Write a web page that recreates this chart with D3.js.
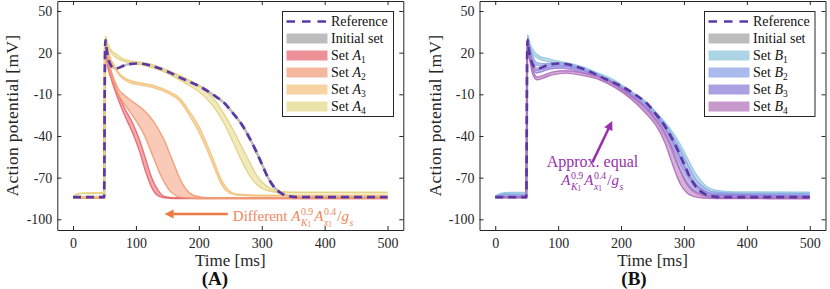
<!DOCTYPE html>
<html lang="en">
<head>
<meta charset="UTF-8" />
<title>Action potential sets</title>
<script src="https://cdn.jsdelivr.net/npm/d3@7"></script>
<style>
  body { margin: 0; background: #fff; }
  svg { display: block; font-family: "Liberation Serif", "DejaVu Serif", serif; }
  text { white-space: pre; }
</style>
</head>
<body>
<svg id="canvas"></svg>
<script>
// ---- data ----
const xTicks = [0, 100, 200, 300, 400, 500];
const yTicks = [-100, -70, -40, -10, 20, 50];

// reference trace [t ms, V mV]
const reference = [
  [0, -84], [49.5, -84], [50.5, 5], [51.5, 29], [53, 24], [56, 16], [60, 11], [65, 9],
  [70, 8.8], [80, 10.5], [90, 11.8], [100, 12.2], [110, 12], [125, 10.5], [150, 6.5],
  [175, 1], [200, -4], [225, -11], [240, -16], [255, -24], [270, -33], [280, -41],
  [290, -50], [300, -60], [310, -70], [320, -77], [330, -81], [345, -83.5], [360, -84], [500, -84]
];

// sets as [t, lower V, upper V]
const setA1 = [
  [0, -84.8, -84.5], [49.5, -84.8, -84.5], [50.5, 0, 5], [51.5, 20, 24], [55, 10, 16], [60, 2, 7],
  [65, -5, -1], [72, -14, -10], [82, -25, -20], [95, -38, -31], [105, -50, -42], [115, -65, -56],
  [125, -77, -70], [135, -83, -79], [145, -84.5, -83.5], [160, -85, -84.5], [500, -85, -84.8]
];
const setA2 = [
  [0, -84.8, -84.5], [49.5, -84.8, -84.5], [50.5, 2, 6], [51.5, 22, 25], [55, 14, 17], [60, 5, 8],
  [65, -2, 1], [72, -10, -6], [80, -16, -10], [88, -21, -13], [100, -29, -17], [114, -40, -22],
  [122, -49, -26], [130, -58, -31], [138, -67, -37], [146, -74, -44], [154, -79.5, -53],
  [162, -82.5, -62], [170, -84, -71], [180, -84.5, -78.5], [190, -84.8, -82.5], [205, -85, -84],
  [220, -85, -84.5], [500, -85, -84.8]
];
const setA3 = [
  [0, -84.3, -83.8], [49.5, -84.3, -83.8], [50.5, 6, 9], [51.5, 25, 27], [55, 20, 22], [60, 14, 15.5],
  [66, 9, 10.5], [72, 4.5, 6], [80, 1, 2.5], [90, -1.5, 0], [110, -3.5, -2], [130, -5.5, -4],
  [150, -9, -7.5], [170, -15, -13], [186, -26, -23], [200, -37, -33], [212, -49, -45],
  [223, -61, -57], [234, -73, -70], [245, -80, -78], [260, -82.5, -82], [300, -83.2, -82.7],
  [500, -83.2, -82.7]
];
const setA4 = [
  [0, -84, -84], [5, -82.5, -82], [15, -81.5, -81], [49.5, -81.3, -80.8], [50.5, 10, 14],
  [51.5, 29, 32], [55, 24, 27], [60, 20, 22], [67, 17, 19.5], [80, 14, 15.5], [100, 12, 13.5],
  [120, 10, 12], [140, 7, 9], [165, 1.5, 4.5], [190, -5, -1], [210, -12, -7], [225, -20, -14],
  [240, -31, -24], [255, -45, -36], [265, -55, -45], [280, -68, -58], [290, -74, -67],
  [300, -77.5, -73], [315, -80, -78], [330, -80.8, -80], [350, -81, -80.5], [500, -81, -80.5]
];
const setB1 = [
  [0, -84, -83.5], [5, -82.5, -82], [15, -81.3, -80.8], [49.5, -81, -80.5], [50.5, 12, 16],
  [51.5, 30, 33], [55, 24, 27], [60, 19, 22], [70, 15.5, 17.5], [85, 13.5, 15.5], [100, 12, 13.8],
  [120, 10, 12], [140, 7.5, 9.5], [165, 2.5, 5], [190, -3, 0], [215, -11, -8], [240, -20, -16],
  [260, -30, -25], [275, -40, -33], [290, -53, -43], [300, -62, -51], [310, -70, -60],
  [320, -76, -68], [335, -79.5, -76], [350, -80.5, -79], [380, -81, -80.3], [500, -81, -80.5]
];
const setB2 = [
  [0, -84, -83.5], [15, -82.5, -82], [49.5, -82.3, -81.8], [50.5, 10, 14], [51.5, 29, 31],
  [55, 21, 24], [60, 14, 17], [65, 11, 13], [75, 10.5, 12], [90, 11, 12.5], [105, 11, 12.3],
  [130, 8.5, 10], [160, 3, 5], [190, -3.5, -1.5], [215, -11.5, -9], [240, -21, -17],
  [260, -31, -26], [275, -42, -35], [290, -56, -46], [300, -65, -55], [310, -72, -64],
  [320, -77, -72], [335, -80.5, -78], [350, -81.5, -80.5], [400, -82, -81.5], [500, -82, -81.5]
];
const setB3 = [
  [0, -84, -83.5], [49.5, -83.3, -83], [50.5, 8, 12], [51.5, 28, 30], [55, 18, 21], [60, 9, 12],
  [65, 5.5, 7.5], [72, 6, 8], [85, 8, 9.5], [105, 9, 10.5], [130, 7, 8.5], [160, 2, 4],
  [190, -4, -2], [215, -12, -10], [240, -22, -19], [260, -33, -28], [275, -45, -38],
  [285, -56, -46], [295, -66, -56], [305, -74, -66], [315, -79, -73], [330, -82, -79],
  [350, -83, -82], [500, -83.3, -83]
];
const setB4 = [
  [0, -84.5, -84], [49.5, -84.5, -84], [50.5, 6, 10], [51.5, 27, 29], [55, 15, 18], [60, 4, 7],
  [67, 0.5, 2.5], [75, 1.5, 3.5], [90, 4, 6], [113, 5.3, 7], [140, 3.5, 5.3], [166, 0.5, 2.5],
  [190, -5, -3], [215, -13, -11], [240, -24, -20], [255, -32, -28], [270, -45, -38],
  [280, -58, -48], [288, -68, -58], [296, -76, -67], [305, -81, -75], [315, -83.5, -80],
  [330, -84.7, -83], [350, -85, -84.3], [500, -85.2, -84.5]
];

const fillsA = ["#ee9097", "#f5b89f", "#f7d3a3", "#ebe3aa"];
const linesA = ["#e9656c", "#f09b72", "#f2c27c", "#e3d27f"];
const fillsB = ["#acd4e4", "#aabaec", "#aba0e1", "#c899cd"];
const linesB = ["#95c8df", "#8fa6e6", "#9282da", "#b06dbd"];
const setNumbers = ["1", "2", "3", "4"];

const refColor = "#5c38a6";
const initColor = "#bdbdbd";

// ---- layout ----
const width = 830;
const height = 289;
const plotTop = 1;
const plotBottom = 230;
const xDomain = [-25, 525];
const yDomain = [-107.7, 57.2];

const svg = d3.select("svg").attr("width", width).attr("height", height);

function mathText(g, x, y, tokens, size, color, anchor) {
  let grp = g.append("g").attr("fill", color);
  let cx = 0;
  let put = (s, px, py, fs, italic) => {
    let t = grp.append("text").attr("x", px).attr("y", py).attr("font-size", fs)
      .style("font-style", italic ? "italic" : "normal").text(s);
    return t.node().getComputedTextLength();
  };
  tokens.forEach((tok) => {
    if (tok.s !== undefined) {
      cx += put(tok.s, cx, 0, size, tok.i);
    } else {
      let w1 = tok.sup ? put(tok.sup, cx + 0.5, -size * 0.45, size * 0.66, false) : 0;
      let sx = cx + 0.5;
      tok.sub.forEach((p, k) => {
        sx += put(p.s, sx, size * 0.3 + (k > 0 ? size * 0.1 : 0), size * (k > 0 ? 0.48 : 0.66), p.i);
      });
      cx += Math.max(w1, sx - cx) + 1.5;
    }
  });
  let dx = anchor === "middle" ? -cx / 2 : 0;
  grp.attr("transform", "translate(" + (x + dx) + "," + y + ")");
}

const ratioTokens = [
  { s: "A", i: true }, { sup: "0.9", sub: [{ s: "K", i: true }, { s: "1" }] },
  { s: "A", i: true }, { sup: "0.4", sub: [{ s: "x", i: true }, { s: "1" }] },
  { s: "/" }, { s: "g", i: true }, { sup: "", sub: [{ s: "s", i: true }] }
];

let drawPanel = (p) => {
  let xScale = d3.scaleLinear().domain(xDomain).range([p.left, p.right]);
  let yScale = d3.scaleLinear().domain(yDomain).range([plotBottom, plotTop]);
  let g = svg.append("g");

  let line = d3.line().x((d) => xScale(d[0])).y((d) => yScale(d[1])).curve(d3.curveMonotoneX);
  let area = d3.area().x((d) => xScale(d[0])).y0((d) => yScale(d[1])).y1((d) => yScale(d[2]))
    .curve(d3.curveMonotoneX);

  // initial set sits under the reference
  g.append("path").attr("d", line(reference)).attr("fill", "none")
    .attr("stroke", initColor).attr("stroke-width", 2.6);

  p.sets.forEach((s, i) => {
    g.append("path").attr("d", area(s)).attr("fill", p.fills[i]).attr("fill-opacity", 0.75);
    [1, 2].forEach((k) => {
      g.append("path").attr("d", line(s.map((d) => [d[0], d[k]]))).attr("fill", "none")
        .attr("stroke", p.lines[i]).attr("stroke-width", 1.4).attr("stroke-opacity", 0.9);
    });
  });

  g.append("path").attr("d", line(reference)).attr("fill", "none")
    .attr("stroke", refColor).attr("stroke-width", 2.7).attr("stroke-dasharray", "8,5");

  // axes, box style with inward ticks
  let fmt = (d) => String(d);
  let ax = [
    [d3.axisBottom(xScale).tickValues(xTicks).tickFormat(fmt).tickPadding(8), "translate(0," + plotBottom + ")"],
    [d3.axisTop(xScale).tickValues(xTicks).tickFormat(""), "translate(0," + plotTop + ")"],
    [d3.axisLeft(yScale).tickValues(yTicks).tickFormat(fmt).tickPadding(5), "translate(" + p.left + ",0)"],
    [d3.axisRight(yScale).tickValues(yTicks).tickFormat(""), "translate(" + p.right + ",0)"]
  ];
  ax.forEach((a) => {
    let axG = g.append("g").attr("transform", a[1])
      .call(a[0].tickSizeInner(-4).tickSizeOuter(0));
    axG.attr("font-family", null).attr("font-size", 14);
    axG.selectAll("path, line").attr("stroke", "#262626");
    axG.selectAll("text").attr("fill", "#262626");
  });

  let cx = (p.left + p.right) / 2;
  g.append("text").attr("x", cx).attr("y", 266).attr("text-anchor", "middle")
    .attr("font-size", 17).attr("fill", "#262626").text("Time [ms]");
  g.append("text").attr("transform", "translate(" + p.yLabelX + "," + (plotTop + plotBottom) / 2 + ") rotate(-90)")
    .attr("text-anchor", "middle").attr("font-size", 17.5).attr("letter-spacing", 0.3)
    .attr("fill", "#262626").text("Action potential [mV]");
  g.append("text").attr("x", p.tagX).attr("y", 285).attr("text-anchor", "middle")
    .attr("font-size", 19).attr("font-weight", "bold").attr("fill", "#111").text(p.tag);

  // legend
  let lg = g.append("g");
  lg.append("rect").attr("x", p.legX).attr("y", 11.5).attr("width", p.legW).attr("height", 105)
    .attr("fill", "#fff").attr("stroke", "#262626").attr("stroke-width", 1);
  let sx0 = p.legX + 4;
  let sx1 = p.legX + 45;
  let rowY = (k) => 21.5 + k * 17;
  lg.append("line").attr("x1", sx0).attr("x2", sx1).attr("y1", rowY(0)).attr("y2", rowY(0))
    .attr("stroke", refColor).attr("stroke-width", 2.7).attr("stroke-dasharray", "8.5,7");
  lg.append("rect").attr("x", sx0).attr("y", rowY(1) - 5).attr("width", sx1 - sx0).attr("height", 10)
    .attr("fill", initColor);
  p.fills.forEach((c, i) => {
    lg.append("rect").attr("x", sx0).attr("y", rowY(i + 2) - 5).attr("width", sx1 - sx0)
      .attr("height", 10).attr("fill", c);
  });
  let labels = ["Reference", "Initial set"];
  labels.forEach((l, k) => {
    lg.append("text").attr("x", sx1 + 3.5).attr("y", rowY(k)).attr("dy", "0.35em")
      .attr("font-size", 14).attr("fill", "#111").text(l);
  });
  setNumbers.forEach((n, i) => {
    let t = lg.append("text").attr("x", sx1 + 3.5).attr("y", rowY(i + 2)).attr("dy", "0.35em")
      .attr("font-size", 14).attr("fill", "#111");
    t.append("tspan").text("Set ");
    t.append("tspan").style("font-style", "italic").text(p.letter);
    t.append("tspan").attr("font-size", 9.5).attr("dy", 3).text(n);
  });

  p.note(g, xScale, yScale);
};

drawPanel({
  left: 57.3, right: 403.3, yLabelX: 18, tagX: 215, tag: "(A)", letter: "A",
  sets: [setA1, setA2, setA3, setA4], fills: fillsA, lines: linesA,
  legX: 282.5, legW: 111,
  note: (g, x, y) => {
    let c = "#f07a43";
    g.append("line").attr("x1", x(246)).attr("x2", x(153)).attr("y1", y(-96.2)).attr("y2", y(-96.2))
      .attr("stroke", c).attr("stroke-width", 2.5);
    g.append("path").attr("fill", c)
      .attr("d", "M" + x(145.5) + "," + y(-96.2) + "l9,-4.5l0,9z");
    mathText(g, x(254), y(-101.5), [{ s: "Different " }].concat(ratioTokens), 15, "#f2865a", "start");
  }
});

drawPanel({
  left: 479.5, right: 825.5, yLabelX: 440.5, tagX: 634, tag: "(B)", letter: "B",
  sets: [setB1, setB2, setB3, setB4], fills: fillsB, lines: linesB,
  legX: 704.5, legW: 110.5,
  note: (g, x, y) => {
    let c = "#9a2fae";
    let x0 = x(154.5), y0 = y(-59);
    let x1 = x(186), y1 = y(-29.2);
    let ang = Math.atan2(y1 - y0, x1 - x0);
    let len = Math.hypot(x1 - x0, y1 - y0);
    let ag = g.append("g").attr("transform", "translate(" + x0 + "," + y0 + ") rotate(" + ang * 180 / Math.PI + ")");
    ag.append("line").attr("x1", 0).attr("x2", len - 7).attr("y1", 0).attr("y2", 0)
      .attr("stroke", c).attr("stroke-width", 2.5);
    ag.append("path").attr("fill", c).attr("d", "M" + len + ",0l-9,-4.5l0,9z");
    g.append("text").attr("x", x(154.5)).attr("y", y(-62)).attr("text-anchor", "middle")
      .attr("font-size", 16).attr("fill", c).text("Approx. equal");
    mathText(g, x(155.5), y(-75.5), ratioTokens, 15, c, "middle");
  }
});
</script>
</body>
</html>
